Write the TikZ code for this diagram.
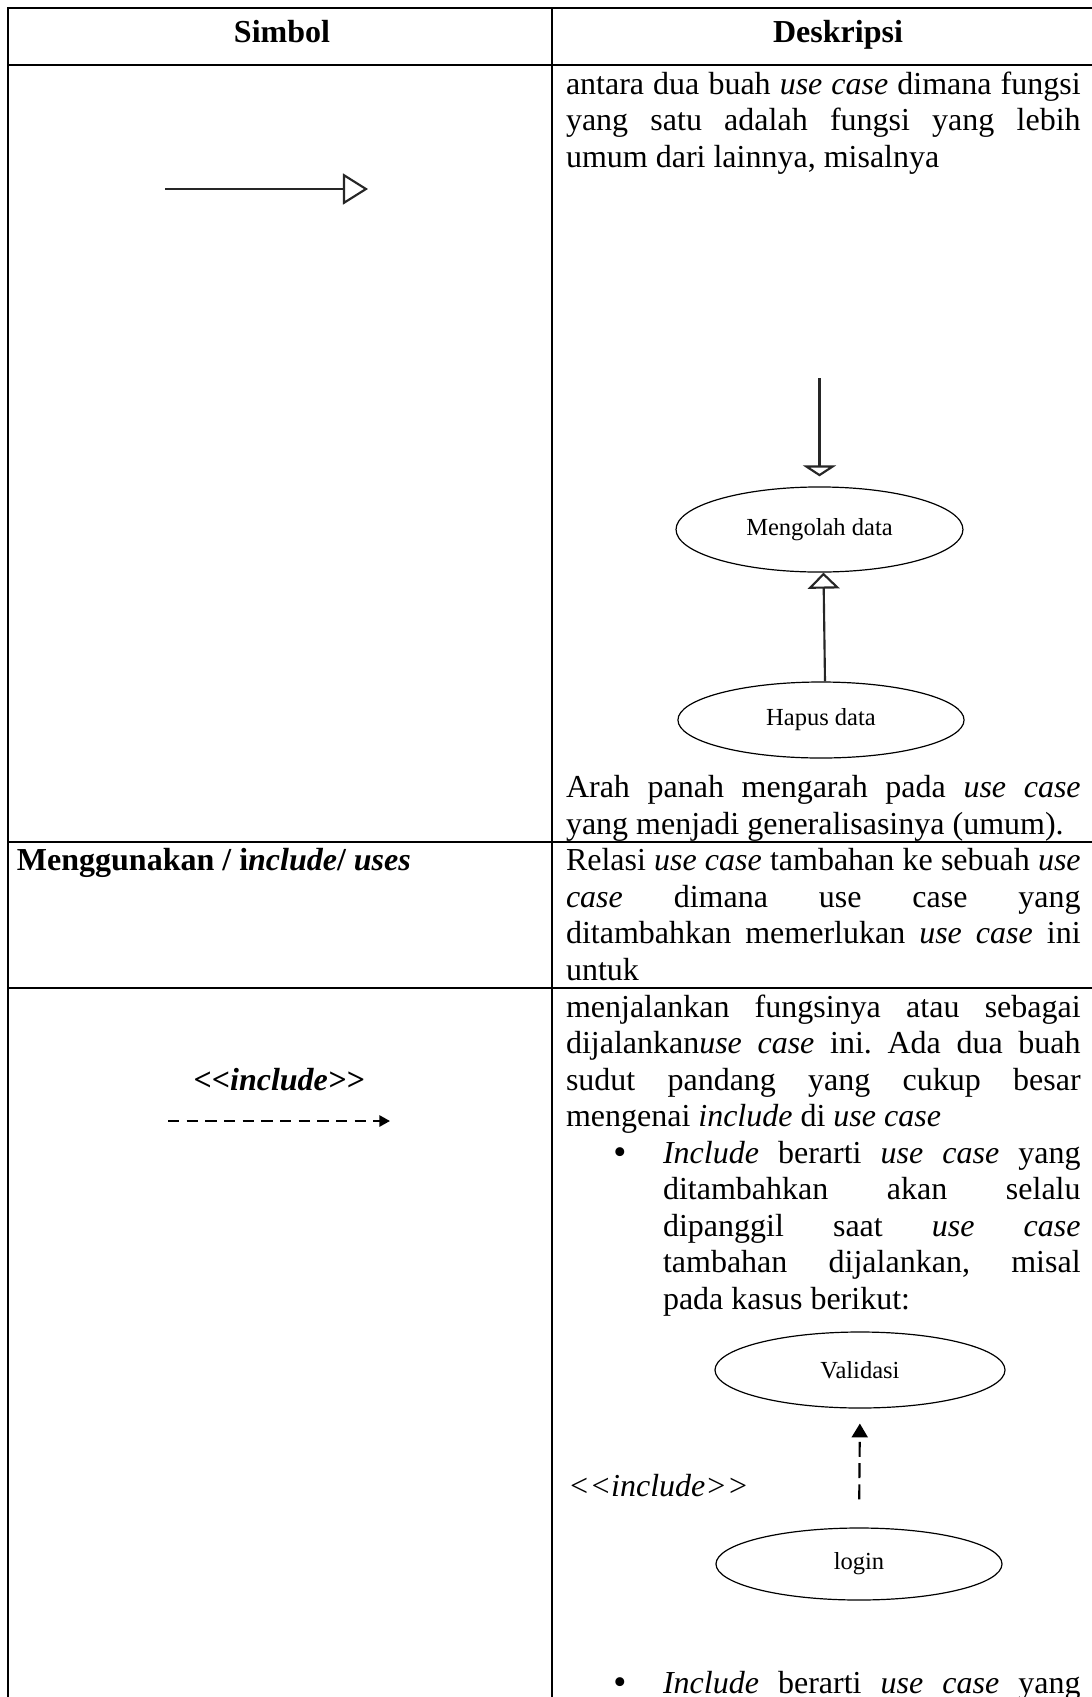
\documentclass[tikz,border=0pt]{standalone}
\usepackage{fontspec}
\setmainfont{Liberation Serif}
\usetikzlibrary{arrows.meta,shapes.geometric,calc}
\frenchspacing

% one justified line across the description column / inside a bullet item
\newcommand\jl[1]{\makebox[193pt][s]{#1}}
\newcommand\jb[1]{\makebox[156.6pt][s]{#1}}

\begin{document}
\begin{tikzpicture}[x=0.375pt,y=-0.375pt,
  txt/.style={font=\fontsize{12pt}{13.7pt}\selectfont, anchor=base west, inner sep=0pt, outer sep=0pt},
  head/.style={font=\fontsize{12pt}{13.7pt}\selectfont\bfseries, anchor=base, inner sep=0pt},
  stereo/.style={font=\fontsize{12pt}{13.7pt}\selectfont\bfseries\itshape, anchor=base, inner sep=0pt},
  bul/.style={font=\fontsize{14pt}{14pt}\selectfont, anchor=base, inner sep=0pt},
  uc/.style={ellipse, draw, line width=0.45pt, inner sep=0pt, font=\fontsize{9.2pt}{11pt}\selectfont},
  grid/.style={line width=0.9pt, line cap=rect},
  genline/.style={line width=0.8pt, draw=black!85},
  incline/.style={line width=0.8pt, dash pattern=on 4.2pt off 2.8pt},
]
\fill[white] (0,0) rectangle (1092,1697);
\useasboundingbox (0,0) rectangle (1092,1697);

% ---------- header ----------
\node[head] (hSym) at (282,42) {Simbol};
\node[head] (hDesc) at (838,42) {Deskripsi};

% ---------- row 1: generalisation ----------
\coordinate (gL) at (165,189);
\coordinate (gR) at (368,189);
\draw[genline, -{Triangle[open, length=9.4pt, width=11.6pt]}] (gL) -- (gR);

\node[txt] (r1a) at (566,94)  {\jl{antara dua buah \textit{use case} dimana fungsi}};
\node[txt] (r1b) at (566,130.5) {\jl{yang satu adalah fungsi yang lebih}};
\node[txt] (r1c) at (566,167) {umum dari lainnya, misalnya};

\node[uc, minimum width=107.6pt, minimum height=31.9pt] (olah) at (819.5,529.5) {Mengolah data};
\node[uc, minimum width=107.3pt, minimum height=28.5pt] (hapus) at (821,720) {Hapus data};
\coordinate (gTop) at (819.5,378);
\draw[genline, shorten >=3.75pt, -{Triangle[open, length=4.1pt, width=12.4pt]}] (gTop) -- (olah.north);
\draw[genline, -{Triangle[open, length=6pt, width=12pt]}] ([xshift=1.5pt]hapus.north) -- ([xshift=1.5pt]olah.south);

\node[txt] (r1d) at (566,797.5) {\jl{Arah panah mengarah pada \textit{use case}}};
\node[txt] (r1e) at (566,834) {yang menjadi generalisasinya (umum).};

% ---------- row 2: include / uses ----------
\node[txt, font=\fontsize{12pt}{13.7pt}\selectfont\bfseries] (sym2) at (17,870.5) {Menggunakan / i\textit{nclude}/ \textit{uses}};
\node[txt] (r2a) at (566,870.5) {\jl{Relasi \textit{use case} tambahan ke sebuah \textit{use}}};
\node[txt] (r2b) at (566,907)   {\jl{\textit{case} dimana use case yang}};
\node[txt] (r2c) at (566,943.5) {\jl{ditambahkan memerlukan \textit{use case} ini}};
\node[txt] (r2d) at (566,980)   {untuk};

% ---------- row 3 ----------
\node[stereo] (sym3) at (279,1090) {{<}{<}include{>}{>}};
\coordinate (iL) at (168,1121);
\coordinate (iR) at (390,1121);
\draw[incline, -{Triangle[length=4pt, width=4.2pt]}] (iL) -- (iR);

\node[txt] (r3a) at (566,1017)   {\jl{menjalankan fungsinya atau sebagai}};
\node[txt] (r3b) at (566,1053.5) {\jl{dijalankan\textit{use case} ini. Ada dua buah}};
\node[txt] (r3c) at (566,1090)   {\jl{sudut pandang yang cukup besar}};
\node[txt] (r3d) at (566,1126.5) {mengenai \textit{include} di \textit{use case}};
\node[bul] (b1) at (620,1164) {\textbullet};
\node[txt] (r3e) at (663,1163)   {\jb{\textit{Include} berarti \textit{use case} yang}};
\node[txt] (r3f) at (663,1199.5) {\jb{ditambahkan akan selalu}};
\node[txt] (r3g) at (663,1236)   {\jb{dipanggil saat \textit{use case}}};
\node[txt] (r3h) at (663,1272.5) {\jb{tambahan dijalankan, misal}};
\node[txt] (r3i) at (663,1309)   {pada kasus berikut:};

\node[uc, minimum width=108.75pt, minimum height=28.5pt] (valid) at (860,1370) {Validasi};
\node[uc, minimum width=107.25pt, minimum height=27pt] (login) at (859,1564) {login};
\node[txt, font=\fontsize{12pt}{13.7pt}\selectfont\itshape] (incl) at (568,1496) {{<}{<}include{>}{>}};
\draw[line width=0.8pt, dash pattern=on 5.6pt off 2.4pt, shorten <=10.5pt, shorten >=5.6pt,
      -{Triangle[length=5.2pt, width=6pt]}] (login.north) -- (valid.south);

\node[bul] (b2) at (620,1694) {\textbullet};
\node[txt] (r3j) at (663,1693) {\jb{\textit{Include} berarti \textit{use case} yang}};

% ---------- table rules ----------
\draw[grid] (8,8) -- (1092,8);
\draw[grid] (8,65) -- (1092,65);
\draw[grid] (8,842) -- (1092,842);
\draw[grid] (8,988) -- (1092,988);
\draw[grid] (8,8) -- (8,1697);
\draw[grid] (552,8) -- (552,1697);
\end{tikzpicture}
\end{document}
